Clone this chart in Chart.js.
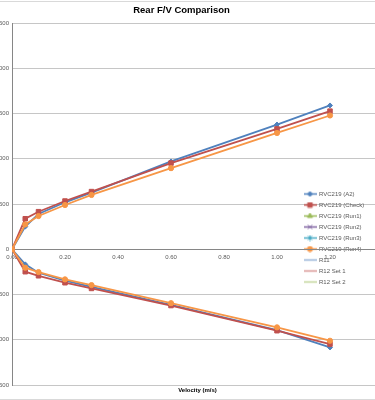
<!DOCTYPE html>
<html>
<head>
<meta charset="utf-8">
<title>Rear F/V Comparison</title>
<script src="https://cdn.jsdelivr.net/npm/chart.js@4.4.0/dist/chart.umd.min.js"></script>
<style>
    html, body { margin: 0; padding: 0; background: #fff; overflow: hidden; }
    #wrap { position: relative; width: 375px; height: 400px; overflow: hidden; }
    #fvChart { position: absolute; left: -20px; top: 0; }
    #frame {
        position: absolute; left: 0; top: 1px; width: 375px; height: 397px;
        border-top: 1px solid #d9d9d9; border-bottom: 1px solid #d9d9d9;
        pointer-events: none;
    }
</style>
</head>
<body>
<div id="wrap">
    <canvas id="fvChart" width="415" height="400"></canvas>
    <div id="frame"></div>
</div>
<script>
// velocity (m/s): rebound branch going in, then compression branch going out
const velocity = [1.2, 1.0, 0.6, 0.3, 0.2, 0.1, 0.05, 0, 0.05, 0.1, 0.2, 0.3, 0.6, 1.0, 1.2];

// force values
const forceA2    = [1589, 1378, 970, 626, 519, 389, 250, 0, -167, -259, -348, -415, -615, -893, -1085];
const forceCheck = [1526, 1330, 952, 637, 533, 415, 337, 0, -248, -293, -370, -433, -622, -900, -1048];
const forceRun1  = [];
const forceRun2  = [];
const forceRun3  = [];
const forceRun4  = [1478, 1285, 896, 600, 489, 367, 274, 0, -204, -252, -333, -396, -596, -863, -1011];
const forceR11   = [];
const forceR12s1 = [];
const forceR12s2 = [];

const seriesNames = ['RVC219 (A2)', 'RVC219 (Check)', 'RVC219 (Run1)', 'RVC219 (Run2)',
                     'RVC219 (Run3)', 'RVC219 (Run4)', 'R11', 'R12 Set 1', 'R12 Set 2'];
const seriesForces = [forceA2, forceCheck, forceRun1, forceRun2, forceRun3, forceRun4,
                      forceR11, forceR12s1, forceR12s2];

const yTicksMin = -1500, yTicksMax = 2500, yStep = 500;
const xTicksMin = 0, xTicksMax = 1.4, xStep = 0.2;

const FONT = "'Liberation Sans', Arial, sans-serif";

const styles = [
    { color: '#4F81BD', marker: 'rectRot',  r: 2.5 },
    { color: '#C0504D', marker: 'rect',     r: 3.2 },
    { color: '#9BBB59', marker: 'triangle', r: 3 },
    { color: '#8064A2', marker: 'crossRot', r: 3 },
    { color: '#4BACC6', marker: 'star',     r: 3 },
    { color: '#F79646', marker: 'circle',   r: 2.6 },
    { color: '#95B3D7', marker: false,      r: 0 },
    { color: '#D99694', marker: false,      r: 0 },
    { color: '#C3D69B', marker: false,      r: 0 }
];

// small line + marker icon for the legend, like Excel draws it
function legendIcon(st) {
    const c = document.createElement('canvas');
    c.width = 13; c.height = 7;
    const ctx = c.getContext('2d');
    ctx.strokeStyle = st.color;
    ctx.lineWidth = 1.5;
    ctx.beginPath();
    ctx.moveTo(0, 3.5);
    ctx.lineTo(13, 3.5);
    ctx.stroke();
    if (st.marker && Chart.helpers && Chart.helpers.drawPoint) {
        ctx.fillStyle = st.color;
        ctx.lineWidth = 1;
        Chart.helpers.drawPoint(ctx, { pointStyle: st.marker, radius: st.r, rotation: 0, borderWidth: 1 }, 6.5, 3.5);
    }
    return c;
}
const icons = styles.map(legendIcon);

const datasets = seriesNames.map((name, i) => ({
    label: name,
    data: seriesForces[i].map((f, k) => ({ x: velocity[k], y: f })),
    showLine: true,
    borderColor: styles[i].color,
    backgroundColor: styles[i].color,
    borderWidth: 1.8,
    pointStyle: styles[i].marker || 'circle',
    pointRadius: styles[i].marker ? styles[i].r : 0,
    pointBackgroundColor: styles[i].color,
    pointBorderColor: styles[i].color,
    pointBorderWidth: 1,
    tension: 0,
    order: 20 - i   // later series drawn on top, like Excel
}));

// put the legend inside the plot, to the right, as in the original
const legendPlacer = {
    id: 'legendPlacer',
    afterLayout(chart) {
        const lg = chart.legend;
        if (!lg) return;
        lg.left = 319;
        lg.right = 410;
        lg.top = 186;
        lg.bottom = 320;
        lg.width = lg.right - lg.left;
        lg.height = lg.bottom - lg.top;
    }
};

new Chart(document.getElementById('fvChart'), {
    type: 'scatter',
    data: { datasets: datasets },
    plugins: [legendPlacer],
    options: {
        responsive: false,
        animation: false,
        devicePixelRatio: 1,
        layout: { padding: { left: 0, right: 12, top: 0, bottom: 0 } },
        plugins: {
            title: {
                display: true,
                text: 'Rear F/V Comparison',
                color: '#000',
                font: { family: FONT, size: 9.5, weight: 'bold' },
                padding: { top: 5, bottom: 6.6 }
            },
            subtitle: {
                display: true,
                position: 'bottom',
                fullSize: false,
                text: 'Velocity (m/s)',
                color: '#000',
                font: { family: FONT, size: 6, weight: 'bold' },
                padding: { top: 1.5, bottom: 6.3 }
            },
            legend: {
                display: true,
                position: 'chartArea',
                align: 'start',
                labels: {
                    usePointStyle: true,
                    pointStyleWidth: 12,
                    padding: 5,
                    color: '#595959',
                    font: { family: FONT, size: 6 },
                    generateLabels(chart) {
                        const items = Chart.defaults.plugins.legend.labels.generateLabels(chart);
                        items.forEach(it => { it.pointStyle = icons[it.datasetIndex]; });
                        return items;
                    },
                    sort: (a, b) => a.datasetIndex - b.datasetIndex
                }
            },
            tooltip: { enabled: false }
        },
        scales: {
            x: {
                type: 'linear',
                position: { y: 0 },
                min: xTicksMin,
                max: xTicksMax,
                grid: { display: false, drawTicks: false },
                border: { display: true, color: '#868686', width: 1 },
                ticks: {
                    stepSize: xStep,
                    autoSkip: false,
                    maxRotation: 0,
                    padding: 4,
                    color: '#595959',
                    font: { family: FONT, size: 6 },
                    callback: v => Number(v).toFixed(2)
                }
            },
            y: {
                type: 'linear',
                min: yTicksMin,
                max: yTicksMax,
                afterFit(scale) { scale.width = 32; },
                grid: { color: '#c6c6c6', lineWidth: 1, drawTicks: false },
                border: { display: true, color: '#868686', width: 1 },
                ticks: {
                    stepSize: yStep,
                    padding: 3,
                    color: '#595959',
                    font: { family: FONT, size: 6 }
                }
            }
        }
    }
});
</script>
</body>
</html>
